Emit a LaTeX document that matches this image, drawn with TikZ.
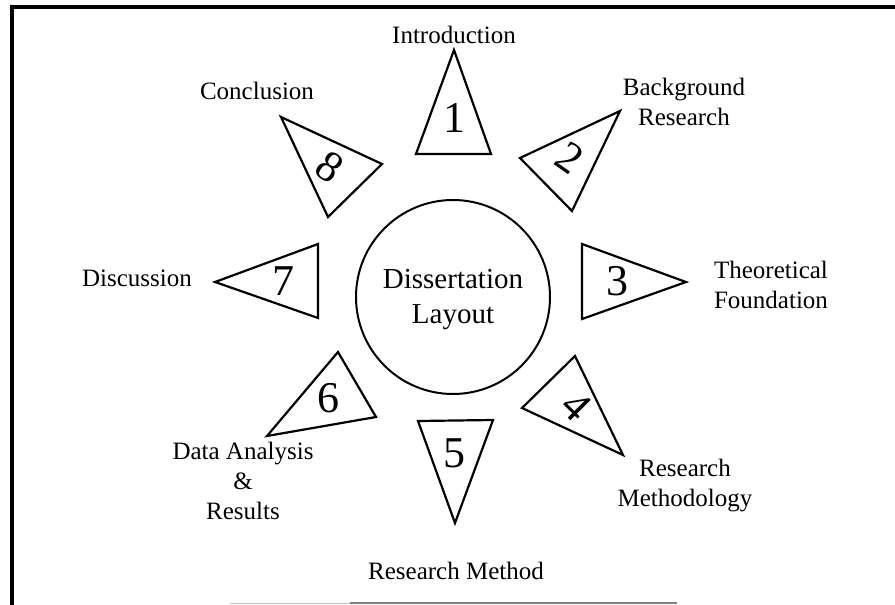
\documentclass[tikz,border=0pt]{standalone}
\usepackage{fontspec}
\setmainfont{Liberation Serif}
\begin{document}
\begin{tikzpicture}[x=1pt,y=-1pt,
  tri/.style={draw=black,line width=2.2pt,line join=miter},
  lbl/.style={inner sep=0pt,align=center,font=\fontsize{25}{30}\selectfont,anchor=north},
  num/.style={inner sep=0pt,font=\fontsize{44}{44}\selectfont},
  frame/.style={draw=black,line width=3.5pt},
]
\useasboundingbox (0,0) rectangle (895,605);
% frame
\coordinate (fbl) at (12,605);
\coordinate (ftl) at (12,7);
\coordinate (ftr) at (895,7);
\draw[frame] (fbl) -- (ftl) -- (ftr);
\coordinate (ba) at (230,603);
\coordinate (bb) at (350,603);
\coordinate (bc) at (677,603);
\draw[gray!50,line width=1pt] (ba) -- (bb);
\draw[gray,line width=1.5pt] (bb) -- (bc);

% centre circle
\node[circle,draw=black,line width=2pt,minimum size=194pt,inner sep=0pt] (c) at (453,297) {};
\node[inner sep=0pt,align=center,font=\fontsize{29}{35}\selectfont] (ct) at (453,299.5) {Dissertation\\Layout};

% triangles
\coordinate (a1) at (454,50);  \coordinate (b1) at (416,154); \coordinate (c1) at (491,154);
\coordinate (a2) at (620,111); \coordinate (b2) at (520,158); \coordinate (c2) at (572,211);
\coordinate (a3) at (686,282); \coordinate (b3) at (582,244); \coordinate (c3) at (582,319);
\coordinate (a4) at (623,455); \coordinate (b4) at (575,356); \coordinate (c4) at (522,408);
\coordinate (a5) at (455,523); \coordinate (b5) at (418,421); \coordinate (c5) at (493,420);
\coordinate (a6) at (267,436); \coordinate (b6) at (338,352); \coordinate (c6) at (376,417);
\coordinate (a7) at (215,282); \coordinate (b7) at (318,244); \coordinate (c7) at (318,318);
\coordinate (a8) at (281,117); \coordinate (b8) at (382,164); \coordinate (c8) at (328,217);
\foreach \i in {1,...,8}{\draw[tri] (a\i) -- (b\i) -- (c\i) -- cycle;}

% numbers
\node[num] (n1) at (454,118) {1};
\node[num,rotate=-35] (n2) at (570,158) {2};
\node[num] (n3) at (617,281) {3};
\node[num,rotate=-45] (n4) at (577,406) {4};
\node[num] (n5) at (454,453) {5};
\node[num] (n6) at (328,398) {6};
\node[num] (n7) at (283,281) {7};
\node[num,rotate=-35] (n8) at (330,167) {8};

% labels
\node[lbl] (l1) at (454,26) {Introduction};
\node[lbl] (l2) at (684,78) {Background\\Research};
\node[lbl] (l3) at (771,261) {Theoretical\\Foundation};
\node[lbl] (l4) at (685,459) {Research\\Methodology};
\node[lbl] (l5) at (456,562) {Research Method};
\node[lbl] (l6) at (243,442) {Data Analysis\\\&\\Results};
\node[lbl] (l7) at (137,270) {Discussion};
\node[lbl] (l8) at (257,82) {Conclusion};
\end{tikzpicture}
\end{document}
